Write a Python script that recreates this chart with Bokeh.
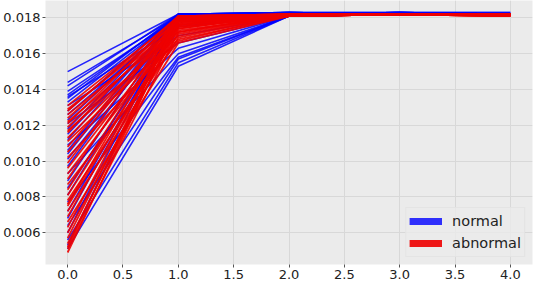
from bokeh.plotting import figure
from bokeh.models import FixedTicker, NumeralTickFormatter, Legend, LegendItem, Range1d
from bokeh.embed import file_html
from bokeh.resources import INLINE

steps = [0, 1, 2, 3, 4]

normal_t0 = [0.0150, 0.0144, 0.0142, 0.0139, 0.0137, 0.0136, 0.0135, 0.0133, 0.0131, 0.0128, 0.0126,
             0.0123, 0.0121, 0.0118, 0.0115, 0.0112, 0.0109, 0.0106, 0.0104, 0.0101, 0.0097, 0.0093,
             0.0089, 0.0085, 0.0081, 0.0077, 0.0072, 0.0068, 0.0064, 0.0060, 0.0056, 0.0053, 0.0051]
normal_t1 = [0.0182, 0.0181, 0.0182, 0.0180, 0.0181, 0.0175, 0.0182, 0.0181, 0.0170, 0.0182, 0.0179,
             0.0181, 0.0166, 0.0182, 0.0180, 0.0181, 0.0163, 0.0182, 0.0181, 0.0178, 0.0182, 0.0160,
             0.0181, 0.0176, 0.0182, 0.0158, 0.0180, 0.0181, 0.0157, 0.0182, 0.0155, 0.0181, 0.0153]
normal_t2 = [0.0183, 0.0182, 0.0182, 0.0181, 0.0182, 0.0182, 0.0183, 0.0182, 0.0181, 0.0182, 0.0182,
             0.0183, 0.0181, 0.0182, 0.0182, 0.0183, 0.0181, 0.0182, 0.0182, 0.0182, 0.0183, 0.0181,
             0.0182, 0.0182, 0.0183, 0.0181, 0.0182, 0.0182, 0.0181, 0.0183, 0.0181, 0.0182, 0.0181]
normal_t3 = [0.0183, 0.0182, 0.0182, 0.0182, 0.0183, 0.0182, 0.0183, 0.0182, 0.0182, 0.0182, 0.0183,
             0.0182, 0.0182, 0.0183, 0.0182, 0.0182, 0.0182, 0.0183, 0.0182, 0.0182, 0.0182, 0.0182,
             0.0183, 0.0182, 0.0182, 0.0182, 0.0182, 0.0183, 0.0182, 0.0182, 0.0182, 0.0182, 0.0182]
normal_t4 = [0.0183, 0.0182, 0.0182, 0.0182, 0.0182, 0.0182, 0.0183, 0.0182, 0.0182, 0.0182, 0.0182,
             0.0182, 0.0182, 0.0182, 0.0182, 0.0182, 0.0182, 0.0182, 0.0182, 0.0182, 0.0182, 0.0182,
             0.0182, 0.0182, 0.0182, 0.0182, 0.0182, 0.0182, 0.0182, 0.0182, 0.0182, 0.0182, 0.0182]

abnormal_t0 = [0.0131, 0.0129, 0.0128, 0.0126, 0.0124, 0.0122, 0.0121, 0.0119, 0.0117, 0.0116,
               0.0113, 0.0111, 0.0108, 0.0105, 0.0102, 0.0099, 0.0096, 0.0093, 0.0090, 0.0087,
               0.0084, 0.0081, 0.0078, 0.0076, 0.0075, 0.0072, 0.0069, 0.0066, 0.0063, 0.0060,
               0.0057, 0.0054, 0.0052, 0.0051, 0.0049]
abnormal_t1 = [0.0180, 0.0178, 0.0181, 0.0176, 0.0179, 0.0174, 0.0181, 0.0177, 0.0172, 0.0180,
               0.0175, 0.0170, 0.0179, 0.0178, 0.0168, 0.0181, 0.0176, 0.0173, 0.0180, 0.0167,
               0.0179, 0.0177, 0.0171, 0.0181, 0.0175, 0.0169, 0.0178, 0.0166, 0.0180, 0.0174,
               0.0179, 0.0176, 0.0181, 0.0172, 0.0178]
abnormal_t2 = [0.0182, 0.0181, 0.0182, 0.0182, 0.0181, 0.0182, 0.0182, 0.0181, 0.0182, 0.0182,
               0.0181, 0.0182, 0.0182, 0.0182, 0.0181, 0.0182, 0.0182, 0.0181, 0.0182, 0.0182,
               0.0181, 0.0182, 0.0182, 0.0182, 0.0181, 0.0182, 0.0182, 0.0181, 0.0182, 0.0182,
               0.0182, 0.0181, 0.0182, 0.0182, 0.0181]
abnormal_t3 = [0.0182, 0.0182, 0.0182, 0.0182, 0.0182, 0.0182, 0.0182, 0.0182, 0.0182, 0.0182,
               0.0182, 0.0182, 0.0182, 0.0182, 0.0182, 0.0182, 0.0182, 0.0182, 0.0182, 0.0182,
               0.0182, 0.0182, 0.0182, 0.0182, 0.0182, 0.0182, 0.0182, 0.0182, 0.0182, 0.0182,
               0.0182, 0.0182, 0.0182, 0.0182, 0.0182]
abnormal_t4 = [0.0182, 0.0182, 0.0182, 0.0182, 0.0181, 0.0182, 0.0182, 0.0182, 0.0181, 0.0182,
               0.0182, 0.0182, 0.0182, 0.0182, 0.0181, 0.0182, 0.0182, 0.0182, 0.0182, 0.0182,
               0.0181, 0.0182, 0.0182, 0.0182, 0.0182, 0.0182, 0.0181, 0.0182, 0.0182, 0.0182,
               0.0182, 0.0182, 0.0181, 0.0182, 0.0182]

x_ticks = [0, 0.5, 1, 1.5, 2, 2.5, 3, 3.5, 4]
y_ticks = [0.006, 0.008, 0.010, 0.012, 0.014, 0.016, 0.018]
labels = ["normal", "abnormal"]
colors = ["#0000ff", "#ee0000"]

FONT = "DejaVu Sans"

p = figure(width=534, height=281, output_backend="svg", toolbar_location=None,
           x_range=Range1d(-0.2, 4.2), y_range=Range1d(0.00423, 0.01897),
           min_border_left=45, min_border_right=2, min_border_top=0, min_border_bottom=15)
p.background_fill_color = "#ebebeb"
p.border_fill_color = "white"
p.outline_line_color = None

normal_ys = [list(v) for v in zip(normal_t0, normal_t1, normal_t2, normal_t3, normal_t4)]
abnormal_ys = [list(v) for v in zip(abnormal_t0, abnormal_t1, abnormal_t2, abnormal_t3, abnormal_t4)]

p.multi_line([steps] * len(normal_ys), normal_ys, line_color=colors[0], line_width=1.6, line_alpha=0.85)
p.multi_line([steps] * len(abnormal_ys), abnormal_ys, line_color=colors[1], line_width=1.8, line_alpha=0.9)

nan = float("nan")
leg_n = p.line([nan], [nan], line_color=colors[0], line_width=7, line_alpha=0.8)
leg_a = p.line([nan], [nan], line_color=colors[1], line_width=7, line_alpha=0.9)
legend = Legend(items=[LegendItem(label=labels[0], renderers=[leg_n]),
                       LegendItem(label=labels[1], renderers=[leg_a])],
                location="bottom_right", label_text_font=FONT, label_text_font_size="14.5px",
                label_text_color="#222222", glyph_width=33, glyph_height=20,
                background_fill_color="#ebebeb", background_fill_alpha=0.8,
                border_line_color="#dddddd", margin=7, padding=3, spacing=2,
                label_standoff=10, label_height=20)
p.add_layout(legend)

p.xaxis.ticker = FixedTicker(ticks=x_ticks)
p.yaxis.ticker = FixedTicker(ticks=y_ticks)
p.xaxis.formatter = NumeralTickFormatter(format="0.0")
p.yaxis.formatter = NumeralTickFormatter(format="0.000")
for ax in (p.xaxis, p.yaxis):
    ax.axis_line_color = None
    ax.major_tick_line_color = "#555555"
    ax.major_tick_out = 3
    ax.major_tick_in = 0
    ax.minor_tick_line_color = None
    ax.major_label_text_font = FONT
    ax.major_label_text_font_size = "13px"
    ax.major_label_text_color = "#222222"
    ax.major_label_standoff = 2
p.grid.grid_line_color = "#d8d8d8"
p.grid.grid_line_width = 1

open("out.html", "w").write(file_html(p, INLINE))
